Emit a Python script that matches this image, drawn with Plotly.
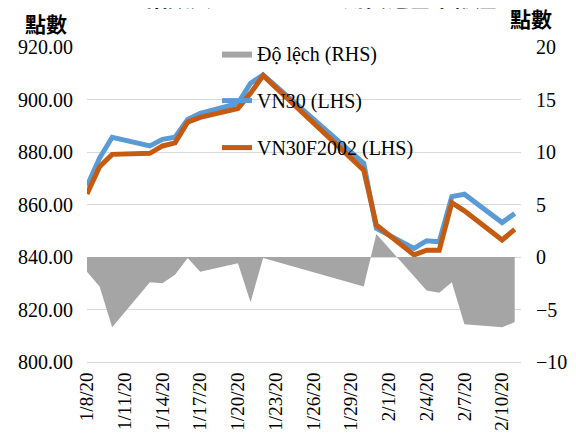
import plotly.graph_objects as go

dates = ["2020-01-08", "2020-01-09", "2020-01-10", "2020-01-13", "2020-01-14",
         "2020-01-15", "2020-01-16", "2020-01-17", "2020-01-20", "2020-01-21",
         "2020-01-22", "2020-01-30", "2020-01-31", "2020-02-03", "2020-02-04",
         "2020-02-05", "2020-02-06", "2020-02-07", "2020-02-10", "2020-02-11"]
vn30 = [867.0, 877.7, 885.6, 882.3, 884.8, 885.6, 892.4, 894.7, 898.5, 906.2,
        909.4, 875.7, 850.9, 843.3, 846.2, 845.8, 863.0, 863.9, 853.1, 856.6]
vn30f = [864.0, 874.4, 879.1, 879.5, 882.3, 883.5, 891.4, 893.2, 896.6, 902.4,
         909.1, 873.1, 852.2, 840.8, 842.6, 842.6, 860.7, 857.6, 846.5, 850.5]
do_lech = [-1.4, -2.8, -6.7, -2.4, -2.5, -1.7, -0.1, -1.4, -0.6, -4.3,
           -0.1, -2.8, 2.2, -1.8, -3.2, -3.4, -2.4, -6.4, -6.7, -6.2]

left_ticks = [800, 820, 840, 860, 880, 900, 920]
right_ticks = [-10, -5, 0, 5, 10, 15, 20]
x_ticks = ["2020-01-08", "2020-01-11", "2020-01-14", "2020-01-17", "2020-01-20",
           "2020-01-23", "2020-01-26", "2020-01-29", "2020-02-01", "2020-02-04",
           "2020-02-07", "2020-02-10"]
x_tick_labels = ["1/8/20", "1/11/20", "1/14/20", "1/17/20", "1/20/20", "1/23/20",
                 "1/26/20", "1/29/20", "2/1/20", "2/4/20", "2/7/20", "2/10/20"]

SERIF = "Liberation Serif"
CJK = "Noto Sans CJK TC"

fig = go.Figure()
fig.add_trace(go.Scatter(
    x=dates, y=do_lech, name="Độ lệch (RHS)", yaxis="y2",
    mode="lines", line=dict(width=0, color="#a5a5a5"),
    fill="tozeroy", fillcolor="#a5a5a5", legendgroup="a",
))
fig.add_trace(go.Scatter(
    x=dates, y=vn30, name="VN30 (LHS)", mode="lines",
    line=dict(color="#5b9bd5", width=5), legendgroup="b",
))
fig.add_trace(go.Scatter(
    x=dates, y=vn30f, name="VN30F2002 (LHS)", mode="lines",
    line=dict(color="#c55a11", width=5), legendgroup="c",
))

fig.update_layout(
    width=568, height=427,
    margin=dict(l=79, r=55, t=39, b=73, autoexpand=False),
    paper_bgcolor="white", plot_bgcolor="white",
    font=dict(family=SERIF, size=20, color="#000000"),
    showlegend=True,
    legend=dict(x=0.2995, y=1.041, xanchor="left", yanchor="top",
                bgcolor="rgba(0,0,0,0)", tracegroupgap=18,
                font=dict(family=SERIF, size=20, color="#000000")),
    xaxis=dict(
        type="date", range=["2020-01-08", "2020-02-11 12:00"],
        tickmode="array", tickvals=x_ticks, ticktext=x_tick_labels,
        tickangle=-90, showgrid=False, zeroline=False,
        showline=True, linecolor="#d9d9d9", linewidth=1,
        ticks="", ticklabelstandoff=2, tickfont=dict(family=SERIF, size=19),
    ),
    yaxis=dict(
        range=[800, 920], tickmode="array", tickvals=left_ticks,
        tickformat=".2f", showgrid=True, gridcolor="#d9d9d9", gridwidth=1,
        zeroline=False, showline=False, ticks="", ticklabelstandoff=13,
        tickfont=dict(family=SERIF, size=20),
    ),
    yaxis2=dict(
        range=[-10, 20], tickmode="array", tickvals=right_ticks,
        overlaying="y", side="right", showgrid=False, zeroline=False,
        showline=False, ticks="", ticklabelstandoff=14,
        tickfont=dict(family=SERIF, size=20),
    ),
    annotations=[
        dict(text="<b>點數</b>", xref="paper", yref="paper", x=-0.0945, y=1.077,
             xanchor="center", yanchor="middle", showarrow=False,
             font=dict(family=CJK, size=21, color="#000000")),
        dict(text="<b>點數</b>", xref="paper", yref="paper", x=1.023, y=1.092,
             xanchor="center", yanchor="middle", showarrow=False,
             font=dict(family=CJK, size=21, color="#000000")),
        dict(text="<b>VN30 指數與 VN30F2002 期貨之基準偏差</b>", xref="paper", yref="paper",
             x=0.47, y=1.105, xanchor="center", yanchor="bottom", showarrow=False,
             font=dict(family=CJK, size=22, color="#000000")),
    ],
)

fig.write_html("out.html")
